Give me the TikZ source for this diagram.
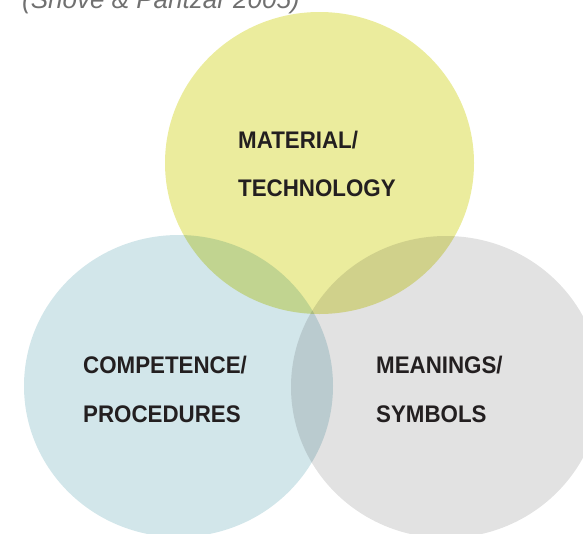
\documentclass[tikz,border=0pt]{standalone}
\usepackage{fontspec}
\setmainfont{Liberation Sans}
\newfontfamily\labelfont[FakeStretch=0.93]{Liberation Sans}
\definecolor{matyellow}{RGB}{235,236,157}
\definecolor{compblue}{RGB}{210,230,234}
\definecolor{meangray}{RGB}{226,226,226}
\definecolor{labeltext}{RGB}{35,31,32}
\definecolor{citegray}{RGB}{112,112,112}
\tikzset{
  elem/.style={blend mode=multiply},
  elemlabel/.style={anchor=base west, inner sep=0pt, text=labeltext, font=\labelfont\bfseries\fontsize{24}{24}\selectfont},
}
\begin{document}
\begin{tikzpicture}[x=1pt,y=-1pt]
				\useasboundingbox (0,0) rectangle (583,533);
				\node [anchor=base west, inner sep=0pt, text=citegray, font=\itshape\fontsize{26}{26}\selectfont] (cite) at (22,8) {(Shove \& Pantzar 2005)};
				
				\begin{scope}[transparency group]
				\fill [compblue, elem] (178.5,386) ellipse [x radius=154.5, y radius=151];
				\fill [meangray, elem] (446,387) ellipse [x radius=155, y radius=151];
				\fill [matyellow, elem] (319.5,163) ellipse [x radius=154.5, y radius=151];
				\end{scope}
				
				\node [elemlabel] (mat) at (238,148) {MATERIAL/};
				\node [elemlabel] (tech) at (238,196) {TECHNOLOGY};
				\node [elemlabel] (comp) at (83,373) {COMPETENCE/};
				\node [elemlabel] (proc) at (83,422) {PROCEDURES};
				\node [elemlabel] (mean) at (376,373) {MEANINGS/};
				\node [elemlabel] (symb) at (376,422) {SYMBOLS};
			\end{tikzpicture}
\end{document}
